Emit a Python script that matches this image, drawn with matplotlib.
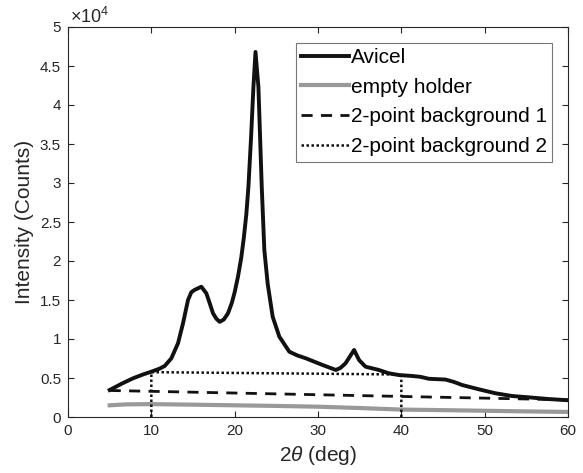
import matplotlib
matplotlib.use("Agg")
import matplotlib.pyplot as plt
import numpy as np

plt.rcParams['font.family'] = ['Liberation Sans', 'DejaVu Sans']
plt.rcParams['mathtext.fontset'] = 'custom'
plt.rcParams['mathtext.it'] = 'Liberation Sans:italic'
plt.rcParams['mathtext.rm'] = 'Liberation Sans'

# Avicel Diffraktogramm
avicel_x = [5, 6.5, 7.8, 9, 10, 11, 11.6, 12.4, 13.2, 13.8, 14.4, 14.8, 15.2, 15.6, 16.0,
            16.6, 17.0, 17.4, 17.8, 18.2, 18.7, 19.2, 19.65, 20.0, 20.4, 20.8, 21.1,
            21.4, 21.65, 21.97, 22.25, 22.5, 22.85, 23.05, 23.25, 23.56, 23.96, 24.56,
            25.36, 26.56, 27.5, 28.55, 30.54, 32.14, 32.7, 33.3, 34.33, 34.93, 35.7,
            37.3, 38.5, 39.7, 41.3, 42.3, 43.3, 45.3, 46.3, 47.3, 49.3, 51.3, 53.3,
            55.3, 57.7, 60]
avicel_y = [3460, 4300, 4960, 5450, 5810, 6200, 6540, 7520, 9450, 12000, 15000, 16000,
            16300, 16500, 16700, 15860, 14600, 13300, 12600, 12200, 12500, 13300, 14600,
            16000, 18000, 20500, 23000, 26000, 29500, 35900, 42300, 46800, 42300, 35900,
            29500, 21400, 17100, 12860, 10300, 8370, 7900, 7520, 6670, 6030, 6300, 6880,
            8590, 7300, 6450, 6030, 5600, 5380, 5260, 5150, 4900, 4800, 4500, 4100, 3550,
            3040, 2690, 2520, 2300, 2150]

# Leerer Probenhalter
holder_x = [5, 7, 10, 15, 20, 25, 30, 35, 40, 45, 50, 55, 60]
holder_y = [1500, 1620, 1650, 1580, 1500, 1420, 1320, 1150, 950, 880, 800, 720, 650]

# 2-Punkt-Untergrund 1
bg1_x = [5, 60]
bg1_y = [3400, 2200]

# 2-Punkt-Untergrund 2
bg2_x = [10, 10, 40, 40]
bg2_y = [0, 5750, 5450, 0]

fig = plt.figure(figsize=(5.83, 4.73), dpi=100)
ax = fig.add_axes([68 / 583, 56 / 473, 500 / 583, 390 / 473])

ax.plot(avicel_x, avicel_y, color='#111111', lw=2.8, label='Avicel')
ax.plot(holder_x, holder_y, color='#999999', lw=3, label='empty holder')
ax.plot(bg1_x, bg1_y, color='#111111', lw=2, ls=(0, (4, 3)), label='2-point background 1')
ax.plot(bg2_x, bg2_y, color='#111111', lw=1.8, ls=(0, (1, 1)), label='2-point background 2')

ax.set_xlim(0, 60)
ax.set_ylim(0, 50000)
ax.set_xticks(np.arange(0, 61, 10))
ax.set_yticks(np.arange(0, 50001, 5000))
ax.set_yticklabels(['0', '0.5', '1', '1.5', '2', '2.5', '3', '3.5', '4', '4.5', '5'])
ax.tick_params(direction='in', top=True, right=True, labelsize=11, length=4,
               colors='#262626', pad=5)
for s in ax.spines.values():
    s.set_color('#262626')
ax.text(0.005, 1.0, r'$\times 10^4$', transform=ax.transAxes, fontsize=13,
        va='bottom', ha='left', color='#262626')

ax.set_xlabel(r'2$\mathit{\theta}$ (deg)', fontsize=15, color='#262626', labelpad=4)
ax.set_ylabel('Intensity (Counts)', fontsize=15, color='#262626', labelpad=4)

leg = ax.legend(loc='upper right', fontsize=15, frameon=True, fancybox=False,
                handlelength=2.3, handletextpad=0.1, borderpad=0.25, labelspacing=0.52,
                borderaxespad=0.75)
leg.get_frame().set_edgecolor('#555555')
leg.get_frame().set_linewidth(0.8)

fig.savefig('out.png', dpi=100)
